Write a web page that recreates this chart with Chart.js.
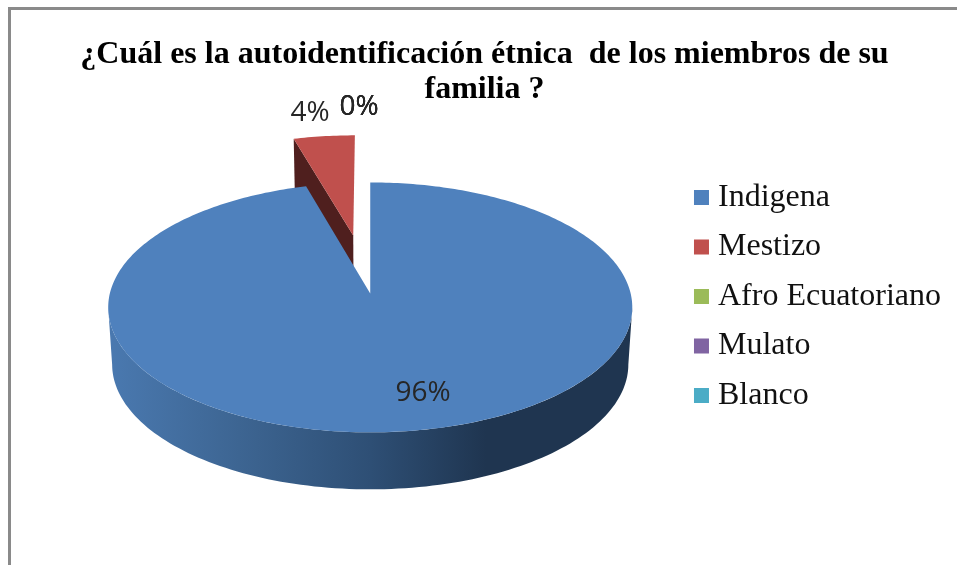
<!DOCTYPE html>
<html lang="es">
<head>
<meta charset="utf-8">
<title>Autoidentificación étnica</title>
<script src="https://cdn.jsdelivr.net/npm/chart.js@4/dist/chart.umd.min.js"></script>
<style>
    html, body { margin: 0; padding: 0; background: #fff; overflow: hidden; }
    #wrap { position: relative; width: 957px; height: 565px; }
    #frame { position: absolute; left: 8px; top: 7px; right: 0; bottom: 0; border-left: 3px solid #8a8a8a; border-top: 3px solid #8a8a8a; }
    #chart { position: absolute; left: 0; top: 0; }
</style>
</head>
<body>
<div id="wrap">
    <div id="frame"></div>
    <canvas id="chart" width="957" height="565"></canvas>
</div>
<script>
'use strict';

var titleLines = ['¿Cuál es la autoidentificación étnica  de los miembros de su', 'familia ?'];
var categories = ['Indigena', 'Mestizo', 'Afro Ecuatoriano', 'Mulato', 'Blanco'];
var values = [95.6, 4.4, 0, 0, 0];
var colors = ['#4f81bd', '#c0504d', '#9bbb59', '#8064a2', '#4bacc6'];
var labelSpots = [[423, 393], [310, 113], [359, 107], [359, 107], [359, 107]];

// fake perspective for the tilted pie: k is the foreshortening, ry the flattened radius
var tilt = { k: 0.112, ry: 123.4, xScale: 1.0015, depth: 57, bottomScale: 0.985 };

function project(arc, dx, dy, isBottom) {
    var R = arc.outerRadius;
    var v = dy / R;
    var w = 1 - tilt.k * v;
    var sx = tilt.xScale * dx / w;
    return {
        x: arc.x + sx * (isBottom ? tilt.bottomScale : 1),
        y: arc.y + tilt.ry * v / w + (isBottom ? tilt.depth : 0)
    };
}

function rimPoint(arc, angle, isBottom) {
    var off = arc.options.offset || 0;
    var mid = (arc.startAngle + arc.endAngle) / 2;
    var R = arc.outerRadius;
    return project(arc, Math.cos(mid) * off + Math.cos(angle) * R, Math.sin(mid) * off + Math.sin(angle) * R, isBottom);
}

function apexPoint(arc, isBottom) {
    var off = arc.options.offset || 0;
    var mid = (arc.startAngle + arc.endAngle) / 2;
    return project(arc, Math.cos(mid) * off, Math.sin(mid) * off, isBottom);
}

function drawFace(ctx, arc) {
    var steps = Math.max(8, Math.ceil((arc.endAngle - arc.startAngle) * 60));
    var a = apexPoint(arc, false);
    ctx.beginPath();
    ctx.moveTo(a.x, a.y);
    for (var i = 0; i <= steps; i++) {
        var p = rimPoint(arc, arc.startAngle + (arc.endAngle - arc.startAngle) * i / steps, false);
        ctx.lineTo(p.x, p.y);
    }
    ctx.closePath();
    ctx.fillStyle = arc.options.backgroundColor;
    ctx.fill();
}

function drawRimWall(ctx, arc) {
    // from silhouette point to silhouette point, these are where the rim turns away
    var from = Math.asin(tilt.k), to = Math.PI - from, steps = 120, i, p;
    ctx.beginPath();
    for (i = 0; i <= steps; i++) {
        p = rimPoint(arc, from + (to - from) * i / steps, false);
        if (i === 0) ctx.moveTo(p.x, p.y); else ctx.lineTo(p.x, p.y);
    }
    for (i = steps; i >= 0; i--) {
        p = rimPoint(arc, from + (to - from) * i / steps, true);
        ctx.lineTo(p.x, p.y);
    }
    ctx.closePath();
    var g = ctx.createLinearGradient(108, 0, 633, 0);
    g.addColorStop(0, '#4a79b0');
    g.addColorStop(0.25, '#3d6592');
    g.addColorStop(0.5, '#2e4f75');
    g.addColorStop(0.72, '#1f3550');
    g.addColorStop(1, '#1f3550');
    ctx.fillStyle = g;
    ctx.fill();
}

function drawInnerWall(ctx, arc) {
    var a = apexPoint(arc, false), ab = apexPoint(arc, true);
    var c = rimPoint(arc, arc.startAngle, false), cb = rimPoint(arc, arc.startAngle, true);
    ctx.beginPath();
    ctx.moveTo(c.x, c.y);
    ctx.lineTo(a.x, a.y);
    ctx.lineTo(ab.x, ab.y);
    ctx.lineTo(cb.x, cb.y);
    ctx.closePath();
    ctx.fillStyle = '#4f1f1e';
    ctx.fill();
}

var tiltedPie = {
    id: 'tiltedPie',
    afterLayout: function (chart) {
        // the title is centred on the original picture, not on the pie area
        chart.titleBlock.left = 12;
        chart.titleBlock.right = 957;
        // legend rows sit lower than chart.js would put them
        chart.legend.top += 38;
        chart.legend.bottom += 38;
    },
    beforeDatasetsDraw: function (chart) {
        var ctx = chart.ctx;
        var arcs = chart.getDatasetMeta(0).data;
        ctx.save();
        drawInnerWall(ctx, arcs[1]);
        drawFace(ctx, arcs[1]);
        drawRimWall(ctx, arcs[0]);
        drawFace(ctx, arcs[0]);
        ctx.restore();
        return false;
    },
    afterDraw: function (chart) {
        var ctx = chart.ctx;
        var total = values.reduce(function (s, v) { return s + v; }, 0);
        ctx.save();
        ctx.font = '28px "Open Sans", sans-serif';
        ctx.fillStyle = '#262626';
        ctx.textAlign = 'center';
        ctx.textBaseline = 'middle';
        values.forEach(function (v, i) {
            ctx.fillText(Math.round(v / total * 100) + '%', labelSpots[i][0], labelSpots[i][1]);
        });
        ctx.restore();
    }
};

new Chart(document.getElementById('chart'), {
    type: 'pie',
    data: {
        labels: categories,
        datasets: [{
            data: values,
            backgroundColor: colors,
            borderWidth: 0,
            offset: function (c) { return c.dataIndex === 1 ? 130 : 0; }
        }]
    },
    options: {
        responsive: false,
        animation: false,
        radius: 260,
        layout: { padding: { left: 57, top: 37, bottom: 85, right: 6 } },
        plugins: {
            title: {
                display: true,
                text: titleLines,
                color: '#000',
                font: { family: '"Liberation Serif", serif', size: 32, weight: 'bold', lineHeight: 1.09 },
                padding: { top: 0, bottom: 0 }
            },
            legend: {
                position: 'right',
                labels: {
                    usePointStyle: true,
                    pointStyle: 'rect',
                    boxWidth: 1,
                    boxHeight: 15,
                    padding: 17.5,
                    color: '#111',
                    font: { family: '"Liberation Serif", serif', size: 32 }
                }
            },
            tooltip: { enabled: false }
        }
    },
    plugins: [tiltedPie]
});
</script>
</body>
</html>
